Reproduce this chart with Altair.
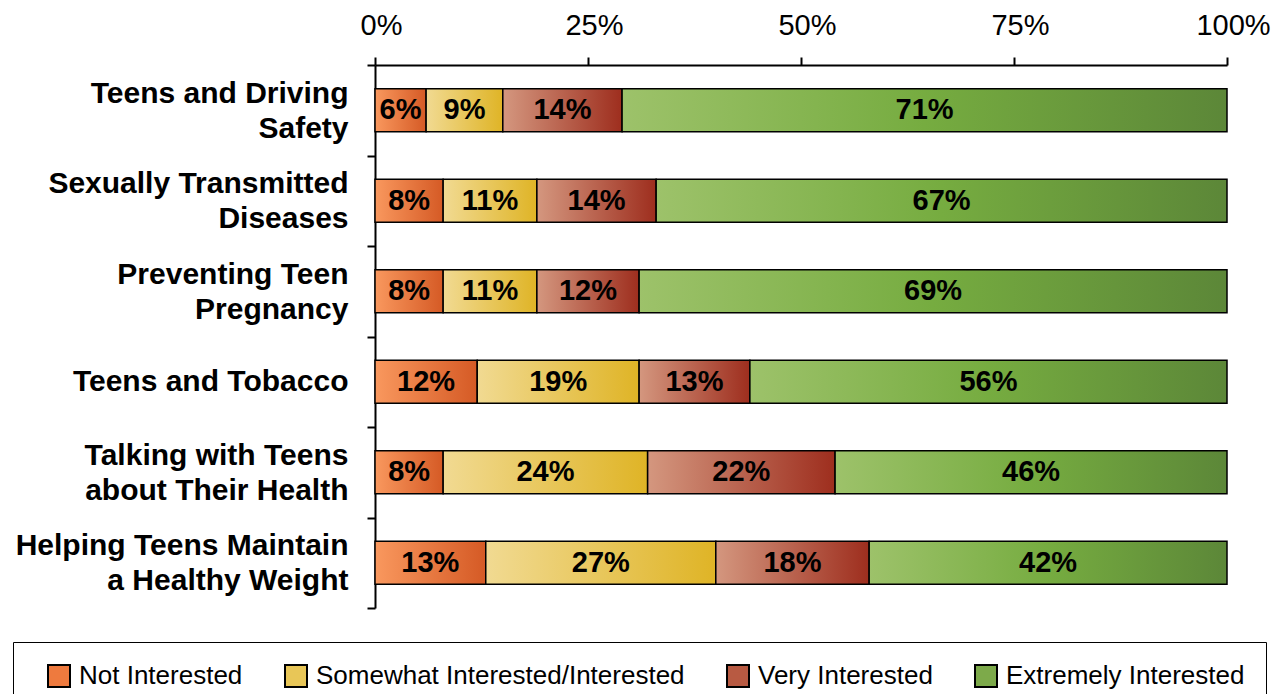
import altair as alt
import pandas as pd

topics = [
    "Teens and Driving|Safety",
    "Sexually Transmitted|Diseases",
    "Preventing Teen|Pregnancy",
    "Teens and Tobacco",
    "Talking with Teens|about Their Health",
    "Helping Teens Maintain|a Healthy Weight",
]
levels = ["Not Interested", "Somewhat Interested/Interested", "Very Interested", "Extremely Interested"]
not_interested = [6, 8, 8, 12, 8, 13]
somewhat_interested = [9, 11, 11, 19, 24, 27]
very_interested = [14, 14, 12, 13, 22, 18]
extremely_interested = [71, 67, 69, 56, 46, 42]
x_ticks = [0, 25, 50, 75, 100]

solid_colors = ["#EE7A3E", "#E8C657", "#B85A42", "#7DAA4A"]
gradient_stops = [
    ["#F9985E", "#D55A25"],
    ["#F1DA92", "#DFB426"],
    ["#D4977F", "#9E2E1E"],
    ["#9DC26A", "#76AC40", "#5C8738"],
]

series = [not_interested, somewhat_interested, very_interested, extremely_interested]
rows = []
for li, (lev, vals) in enumerate(zip(levels, series)):
    for t, v in zip(topics, vals):
        rows.append({"topic": t, "level": lev, "value": v, "order": li})
df = pd.DataFrame(rows)

base = alt.Chart(df).transform_stack(
    stack="value", groupby=["topic"], as_=["x0", "x1"],
    sort=[alt.SortField("order", order="ascending")],
)

x_axis = alt.Axis(
    orient="top", values=x_ticks, labelExpr="datum.value + '%'", title=None, grid=False,
    labelFont="Liberation Sans", labelFontSize=29, labelColor="black", labelPadding=17,
    labelOffset=6, labelFlush=False, ticks=True, tickSize=8, tickWidth=2, tickColor="black",
    domainColor="black", domainWidth=2,
)
x_scale = alt.Scale(domain=[0, 100], nice=False)
x_enc = alt.X("x0:Q", scale=x_scale, axis=x_axis)
x2_enc = alt.X2("x1:Q")
y_enc = alt.Y(
    "topic:N", sort=topics,
    scale=alt.Scale(paddingInner=0, paddingOuter=0),
    axis=alt.Axis(
        title=None, labelExpr="split(datum.label, '|')", labelFont="Liberation Sans",
        labelFontSize=30, labelFontWeight="bold", labelColor="black", labelLineHeight=35,
        labelPadding=19, labelLimit=500, ticks=True, tickSize=8, tickWidth=2, tickColor="black",
        tickBand="extent", domainColor="black", domainWidth=2, labelBaseline="middle",
        labelOffset={"condition": {"test": "indexof(datum.label, '|') >= 0", "value": -17}, "value": 0},
    ),
)

legend_layer = base.mark_bar(size=43).encode(
    x=x_enc, x2=x2_enc, y=y_enc,
    color=alt.Color(
        "level:N",
        scale=alt.Scale(domain=levels, range=solid_colors),
        legend=alt.Legend(
            orient="none", legendX=-362, legendY=577, direction="horizontal", columns=4,
            title=" ", titleOrient="left", titleFontSize=2, titlePadding=12,
            padding=21, strokeColor="black", fillColor="white",
            symbolType="square", symbolSize=484, symbolStrokeColor="black", symbolStrokeWidth=2,
            symbolOpacity=1, labelFont="Liberation Sans", labelFontSize=26, labelColor="black",
            labelOffset=7, columnPadding=38, labelLimit=600,
        ),
    ),
)

layers = [legend_layer]
for lev, stops in zip(levels, gradient_stops):
    n = len(stops)
    grad = alt.Gradient(
        gradient="linear",
        stops=[alt.GradientStop(offset=i / (n - 1), color=c) for i, c in enumerate(stops)],
        x1=0, x2=1, y1=0, y2=0,
    )
    layers.append(
        base.transform_filter(alt.datum.level == lev)
        .mark_bar(fill=grad, stroke="black", strokeWidth=1.5, size=43)
        .encode(x=x_enc, x2=x2_enc, y=y_enc)
    )

text_layer = base.transform_calculate(
    mid="(datum.x0 + datum.x1) / 2", label="datum.value + '%'"
).mark_text(font="Liberation Sans", fontSize=29, fontWeight="bold", color="black", baseline="middle").encode(
    x=alt.X("mid:Q", scale=x_scale, axis=x_axis),
    y=y_enc,
    text="label:N",
)
layers.append(text_layer)

chart = alt.layer(*layers).properties(
    width=852, height=543,
    autosize=alt.AutoSizeParams(type="none"),
    padding={"left": 367, "top": 57, "right": 51, "bottom": 100},
).configure_view(stroke=None)

chart.save("out.html", embed_options={"renderer": "svg", "actions": False})
